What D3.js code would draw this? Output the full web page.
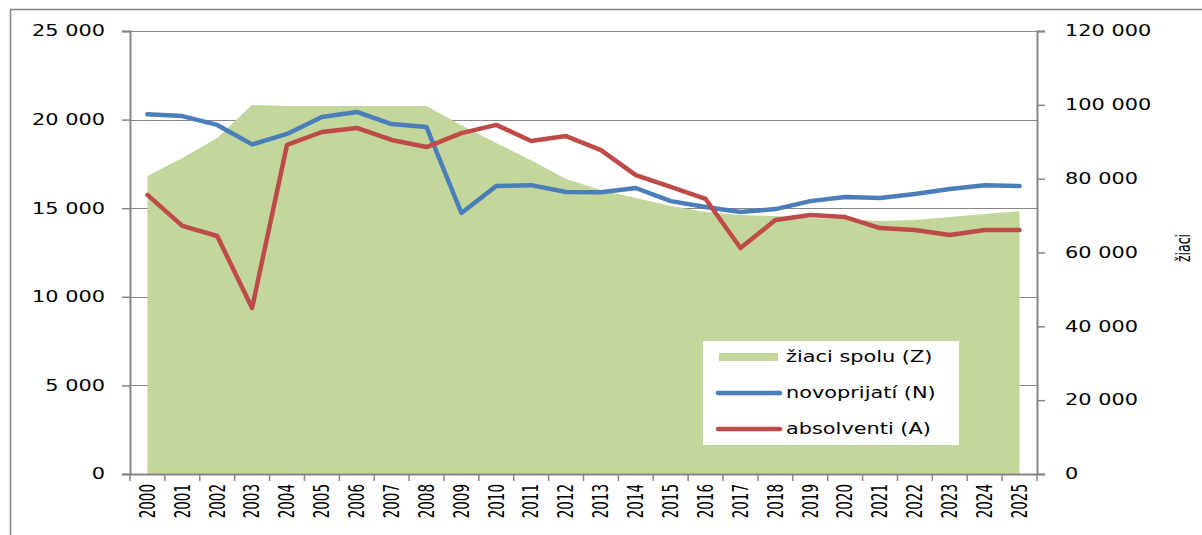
<!DOCTYPE html>
<html>
<head>
<meta charset="utf-8">
<script src="https://cdn.jsdelivr.net/npm/d3@7"></script>
<style>
  body { margin: 0; background: #fff; }
  svg { display: block; }
</style>
</head>
<body>
<svg id="chart" width="1202" height="535"></svg>
<script>
// roky (kategórie)
const years = d3.range(2000, 2026).map(String);

// novoprijatí (N) - ľavá os
const novoprijati = [20300, 20200, 19700, 18600, 19190, 20150, 20430, 19750, 19580, 14730,
    16250, 16300, 15910, 15900, 16140, 15400, 15070, 14790, 14950, 15400,
    15630, 15580, 15800, 16080, 16300, 16250];

// absolventi (A) - ľavá os
const absolventi = [15750, 14000, 13430, 9370, 18570, 19300, 19530, 18850, 18450, 19240,
    19700, 18790, 19070, 18280, 16870, 16200, 15520, 12750, 14330, 14620,
    14500, 13880, 13770, 13490, 13770, 13770];

// žiaci spolu (Z) - pravá os
const ziaciSpolu = [80700, 85600, 91000, 100000, 99700, 99700, 99700, 99700, 99700, 94500,
    89650, 85000, 79900, 76900, 74750, 72600, 70960, 70150, 69900, 69340,
    69070, 68500, 68800, 69600, 70400, 71200];

const leftTicks = [0, 5000, 10000, 15000, 20000, 25000];
const rightTicks = [0, 20000, 40000, 60000, 80000, 100000, 120000];

const fmt = v => d3.format(',')(v).replace(/,/g, ' ');

const svg = d3.select('#chart');
const plotLeft = 130, plotRight = 1037, plotTop = 31, plotBottom = 474;
const axisColor = '#868686';
const stretch = 1.39; // text v originále je vodorovne roztiahnutý
const wideFont = '"DejaVu Sans", Verdana, sans-serif';
const narrowFont = '"Liberation Sans Narrow", "DejaVu Sans Condensed", sans-serif';

// vonkajší rámik grafu
svg.append('rect')
    .attr('x', 10.5).attr('y', 9.5)
    .attr('width', 1400).attr('height', 700)
    .attr('fill', 'none').attr('stroke', axisColor).attr('stroke-width', 1.5);

const x = d3.scaleBand().domain(years).range([plotLeft, plotRight]).padding(0);
const yL = d3.scaleLinear().domain([0, 25000]).range([plotBottom, plotTop]);
const yR = d3.scaleLinear().domain([0, 120000]).range([plotBottom, plotTop]);
const cx = d => x(d) + x.bandwidth() / 2;

// mriežka
svg.append('g')
    .selectAll('line')
    .data(leftTicks.filter(t => t > 0))
    .join('line')
    .attr('x1', plotLeft).attr('x2', plotRight)
    .attr('y1', d => Math.round(yL(d)) + 0.5).attr('y2', d => Math.round(yL(d)) + 0.5)
    .attr('stroke', axisColor).attr('stroke-width', 1);

// plocha - žiaci spolu
const area = d3.area()
    .x((d, i) => cx(years[i]))
    .y0(plotBottom)
    .y1(d => yR(d));
svg.append('path')
    .datum(ziaciSpolu)
    .attr('d', area)
    .attr('fill', '#c3d69b');

// čiary
const line = scale => d3.line()
    .x((d, i) => cx(years[i]))
    .y(d => scale(d));

svg.append('path')
    .datum(novoprijati)
    .attr('d', line(yL))
    .attr('fill', 'none').attr('stroke', '#4a7ebb')
    .attr('stroke-width', 4.5).attr('stroke-linejoin', 'round').attr('stroke-linecap', 'round');

svg.append('path')
    .datum(absolventi)
    .attr('d', line(yL))
    .attr('fill', 'none').attr('stroke', '#be4b48')
    .attr('stroke-width', 4.5).attr('stroke-linejoin', 'round').attr('stroke-linecap', 'round');

// ľavá os
const gL = svg.append('g')
    .attr('transform', `translate(${plotLeft},0)`)
    .call(d3.axisLeft(yL).tickValues(leftTicks).tickFormat(fmt).tickSize(8));
gL.selectAll('.tick text')
    .attr('x', 0)
    .attr('transform', `translate(-25,0) scale(${stretch},1)`);

// pravá os
const gR = svg.append('g')
    .attr('transform', `translate(${plotRight},0)`)
    .call(d3.axisRight(yR).tickValues(rightTicks).tickFormat(fmt).tickSize(8));
gR.selectAll('.tick text')
    .attr('x', 0)
    .attr('transform', `translate(28,0) scale(${stretch},1)`);

[gL, gR].forEach(g => {
    g.select('.domain').attr('stroke', axisColor).attr('stroke-width', 2);
    g.selectAll('.tick line').attr('stroke', axisColor).attr('stroke-width', 1.5);
    g.selectAll('.tick text')
        .attr('fill', '#000')
        .style('font-family', wideFont)
        .style('font-size', '15px');
});

// os x
const gX = svg.append('g')
    .attr('transform', `translate(0,${plotBottom})`)
    .call(d3.axisBottom(x).tickSize(0));
gX.select('.domain').attr('stroke', axisColor).attr('stroke-width', 2);
gX.selectAll('.tick text')
    .attr('transform', `scale(${stretch},1) rotate(-90)`)
    .attr('x', -10).attr('y', 0).attr('dy', '0.35em')
    .attr('text-anchor', 'end')
    .attr('fill', '#000')
    .style('font-family', narrowFont)
    .style('font-size', '15px');
// značky medzi kategóriami
gX.append('g')
    .selectAll('line')
    .data(years.concat(['end']))
    .join('line')
    .attr('x1', (d, i) => plotLeft + i * x.bandwidth())
    .attr('x2', (d, i) => plotLeft + i * x.bandwidth())
    .attr('y1', 0).attr('y2', 7)
    .attr('stroke', axisColor).attr('stroke-width', 1.5);

// názov pravej osi
svg.append('text')
    .attr('transform', `translate(1183,248) scale(${stretch},1) rotate(-90)`)
    .attr('text-anchor', 'middle')
    .attr('dy', '0.35em')
    .style('font-family', narrowFont)
    .style('font-size', '14px')
    .text('žiaci');

// legenda
const legendItems = [
    { label: 'žiaci spolu (Z)', color: '#c3d69b', type: 'area' },
    { label: 'novoprijatí (N)', color: '#4a7ebb', type: 'line' },
    { label: 'absolventi (A)', color: '#be4b48', type: 'line' }
];
const lg = svg.append('g').attr('transform', 'translate(703,341)');
lg.append('rect')
    .attr('width', 256).attr('height', 104)
    .attr('fill', '#fff');
const item = lg.selectAll('g.item')
    .data(legendItems)
    .join('g')
    .attr('class', 'item')
    .attr('transform', (d, i) => `translate(0,${16 + i * 36})`);
item.filter(d => d.type === 'area').append('rect')
    .attr('x', 16).attr('y', -4).attr('width', 59).attr('height', 8)
    .attr('fill', d => d.color);
item.filter(d => d.type === 'line').append('line')
    .attr('x1', 15).attr('x2', 77).attr('y1', 0).attr('y2', 0)
    .attr('stroke', d => d.color).attr('stroke-width', 4.5).attr('stroke-linecap', 'round');
item.append('text')
    .attr('x', 0).attr('y', 0).attr('dy', '0.35em')
    .attr('transform', `translate(83,0) scale(${stretch},1)`)
    .style('font-family', wideFont)
    .style('font-size', '15px')
    .attr('fill', '#000')
    .text(d => d.label);
</script>
</body>
</html>
